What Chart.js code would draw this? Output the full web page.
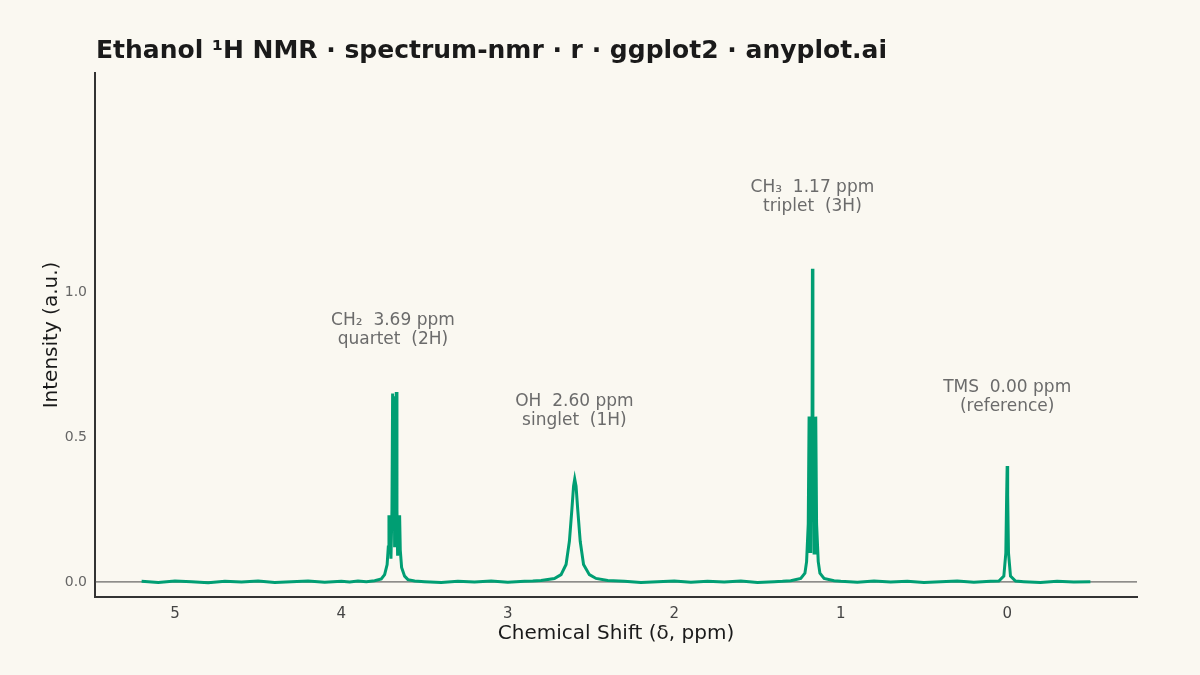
<!DOCTYPE html>
<html><head><meta charset="utf-8">
<script src="https://cdn.jsdelivr.net/npm/chart.js@4"></script>
<style>html,body{margin:0;background:#FAF8F1}canvas{display:block}</style>
</head><body>
<div style="width:1200px;height:675px"><canvas id="c"></canvas></div>
<script>
const shift = [5.2,5.1,5.0,4.9,4.8,4.7,4.6,4.5,4.4,4.3,4.2,4.1,4.0,3.95,3.9,3.85,3.80,3.76,3.74,3.725,3.718,3.714,3.71,3.706,3.702,3.696,3.692,3.688,3.684,3.68,3.674,3.670,3.666,3.662,3.658,3.654,3.650,3.646,3.638,3.62,3.60,3.56,3.5,3.4,3.3,3.2,3.1,3.0,2.9,2.85,2.80,2.72,2.68,2.65,2.63,2.615,2.605,2.598,2.59,2.58,2.565,2.545,2.51,2.47,2.40,2.3,2.2,2.1,2.0,1.9,1.8,1.7,1.6,1.5,1.4,1.35,1.30,1.24,1.215,1.205,1.195,1.19,1.187,1.184,1.18,1.176,1.173,1.17,1.167,1.164,1.16,1.156,1.153,1.15,1.145,1.135,1.125,1.10,1.04,1.0,0.9,0.8,0.7,0.6,0.5,0.4,0.3,0.2,0.1,0.05,0.02,0.008,0.003,0,-0.003,-0.008,-0.02,-0.05,-0.1,-0.2,-0.3,-0.4,-0.5];
const intensity = [0.002,-0.002,0.003,0.001,-0.003,0.002,0.000,0.003,-0.002,0.001,0.003,-0.001,0.002,0.000,0.003,0.001,0.004,0.010,0.025,0.060,0.120,0.230,0.120,0.220,0.080,0.250,0.650,0.250,0.640,0.120,0.300,0.655,0.250,0.090,0.220,0.110,0.230,0.110,0.050,0.020,0.008,0.003,0.001,-0.002,0.002,0.000,0.003,-0.001,0.002,0.003,0.005,0.012,0.025,0.060,0.140,0.250,0.330,0.355,0.330,0.250,0.140,0.060,0.025,0.012,0.005,0.002,-0.002,0.001,0.003,-0.001,0.002,0.000,0.003,-0.002,0.001,0.002,0.004,0.012,0.030,0.070,0.200,0.570,0.100,0.560,0.100,0.560,0.300,1.080,0.300,0.560,0.100,0.560,0.100,0.570,0.200,0.070,0.030,0.012,0.004,0.002,-0.001,0.003,0.000,0.002,-0.002,0.001,0.003,-0.001,0.002,0.003,0.020,0.100,0.300,0.400,0.300,0.100,0.020,0.003,0.001,-0.002,0.002,0.000,0.001];
const xTicks = [0,1,2,3,4,5];
const yTicks = [0,0.5,1.0];
const labelX = [3.69,2.60,1.17,0.00];
const labelY = [0.87,0.59,1.33,0.64];
const labelLine1 = ['CH₂  3.69 ppm','OH  2.60 ppm','CH₃  1.17 ppm','TMS  0.00 ppm'];
const labelLine2 = ['quartet  (2H)','singlet  (1H)','triplet  (3H)','(reference)'];

const deco = {id:'deco',
  beforeDatasetsDraw(ch){const {ctx,chartArea:a,scales:{x,y}}=ch;const y0=y.getPixelForValue(0);
    ctx.save();ctx.strokeStyle='#444';ctx.lineWidth=1;ctx.beginPath();ctx.moveTo(a.left,y0);ctx.lineTo(a.right,y0);ctx.stroke();ctx.restore();},
  afterDraw(ch){const {ctx,scales:{x,y}}=ch;ctx.save();
    ctx.fillStyle='#1a1a1a';ctx.font='bold 25px "DejaVu Sans"';ctx.textBaseline='middle';ctx.textAlign='left';
    ctx.fillText('Ethanol ¹H NMR · spectrum-nmr · r · ggplot2 · anyplot.ai',96,51);
    ctx.fillStyle='#6b6b6b';ctx.font='17px "DejaVu Sans"';ctx.textAlign='center';
    labelX.forEach((v,i)=>{const px=x.getPixelForValue(v),py=y.getPixelForValue(labelY[i]);
      ctx.fillText(labelLine1[i],px,py-9);ctx.fillText(labelLine2[i],px,py+10);});
    ctx.restore();}};

new Chart(document.getElementById('c'),{type:'line',
  data:{datasets:[{data:shift.map((s,i)=>({x:s,y:intensity[i]})),borderColor:'#009E73',borderWidth:3,pointRadius:0,tension:0,fill:false}]},
  options:{responsive:true,maintainAspectRatio:false,animation:false,
    layout:{padding:{top:73,right:63,left:36,bottom:0}},
    plugins:{legend:{display:false},tooltip:{enabled:false}},
    scales:{
      x:{type:'linear',reverse:true,min:-0.78,max:5.48,
        afterBuildTicks(s){s.ticks=xTicks.map(v=>({value:v}));},
        afterFit(s){s.height=78;},
        grid:{display:false},border:{display:true,color:'#333',width:2},
        ticks:{color:'#444',font:{size:15,family:'DejaVu Sans'},padding:0,callback:v=>String(v)},
        title:{display:true,text:'Chemical Shift (δ, ppm)',color:'#1a1a1a',font:{size:20,family:'DejaVu Sans'},padding:{top:2,bottom:29}}},
      y:{min:-0.052,max:1.755,
        afterBuildTicks(s){s.ticks=yTicks.map(v=>({value:v}));},
        afterFit(s){s.width=59;},
        grid:{display:false},border:{display:true,color:'#333',width:2},
        ticks:{color:'#666',font:{size:14,family:'DejaVu Sans'},padding:0,callback:v=>v.toFixed(1)},
        title:{display:true,text:'Intensity (a.u.)',color:'#1a1a1a',font:{size:20,family:'DejaVu Sans'},padding:{bottom:4}}}}},
  plugins:[deco]});
</script></body></html>
